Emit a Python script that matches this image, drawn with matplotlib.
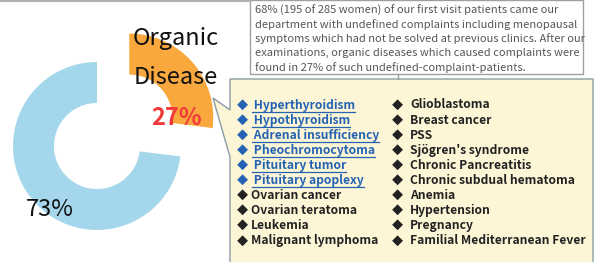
import matplotlib.pyplot as plt
from matplotlib.patches import Rectangle, Polygon

plt.rcParams['font.family'] = ['Noto Sans CJK JP', 'DejaVu Sans']

# data
shares = [27, 73]
share_labels = ['27%', '73%']
colors = ['#f8a83c', '#a5d7ec']

note_lines = [
    '68% (195 of 285 women) of our first visit patients came our',
    'department with undefined complaints including menopausal',
    'symptoms which had not be solved at previous clinics. After our',
    'examinations, organic diseases which caused complaints were',
    'found in 27% of such undefined-complaint-patients.',
]

left_col = ['Hyperthyroidism', 'Hypothyroidism', 'Adrenal insufficiency',
            'Pheochromocytoma', 'Pituitary tumor', 'Pituitary apoplexy',
            'Ovarian cancer', 'Ovarian teratoma', 'Leukemia',
            'Malignant lymphoma']
left_endocrine = [True] * 6 + [False] * 4
right_col = ['Glioblastoma', 'Breast cancer', 'PSS', "Sjögren's syndrome",
             'Chronic Pancreatitis', 'Chronic subdual hematoma', 'Anemia',
             'Hypertension', 'Pregnancy', 'Familial Mediterranean Fever']

W, H = 595, 262
fig = plt.figure(figsize=(W / 100, H / 100), dpi=100)
ax = fig.add_axes([0, 0, 1, 1])


def Y(y):
    # image row -> data y
    return H - y


# donut (orange slice pulled out)
ax.pie(shares, colors=colors, center=(97, Y(146)), radius=84,
       startangle=90, counterclock=False, explode=[43, 0],
       wedgeprops=dict(width=41, linewidth=0), frame=True)
ax.set_xlim(0, W)
ax.set_ylim(0, H)
ax.set_aspect('equal')
ax.axis('off')

ax.text(176, Y(38), 'Organic', fontsize=17, ha='center', va='center', color='#111')
ax.text(176, Y(78), 'Disease', fontsize=17, ha='center', va='center', color='#111')
ax.text(177, Y(118), share_labels[0], fontsize=17, ha='center', va='center',
        color='#f23a3a', fontweight='bold')
ax.text(50, Y(210), share_labels[1], fontsize=17, ha='center', va='center', color='#111')

# top frame line
ax.plot([0, 250], [Y(0.5), Y(0.5)], color='#b0b0b0', lw=1.5)

# note box
ax.add_patch(Rectangle((250, Y(74)), 333, 74, facecolor='white',
                       edgecolor='#a0a0a0', lw=1))
for i, line in enumerate(note_lines):
    ax.text(255, Y(10 + i * 14.4), line, fontsize=8, color='#555',
            ha='left', va='center')
ax.plot([398, 398], [Y(74), Y(79)], color='#a0a0a0', lw=1)

# callout box
pts = [(230, 79), (593, 79), (593, 266), (230, 266), (230, 157),
       (213, 98), (230, 110)]
ax.add_patch(Polygon([(x, Y(y)) for x, y in pts], closed=True,
                     facecolor='#fdf6d6', edgecolor='#8b9ca8', lw=1))

fig.canvas.draw()
renderer = fig.canvas.get_renderer()
blue = '#2463b4'
for i in range(len(left_col)):
    y = Y(105 + i * 15.1)
    c = blue if left_endocrine[i] else '#222'
    ax.text(237, y, '◆', fontsize=8, color=c, ha='left', va='center')
    t = ax.text(251, y, ' ' + left_col[i] if left_endocrine[i] else left_col[i],
                fontsize=8.7, fontweight='bold', color=c, ha='left', va='center')
    if left_endocrine[i]:
        bb = t.get_window_extent(renderer).transformed(ax.transData.inverted())
        ax.plot([bb.x0 + 1, bb.x1], [y - 6.5, y - 6.5], color=c, lw=0.9)
    ax.text(392, y, '◆', fontsize=8, color='#222', ha='left', va='center')
    ax.text(410, y, right_col[i], fontsize=8.7, fontweight='bold',
            color='#222', ha='left', va='center')

fig.savefig('out.png', dpi=100)
